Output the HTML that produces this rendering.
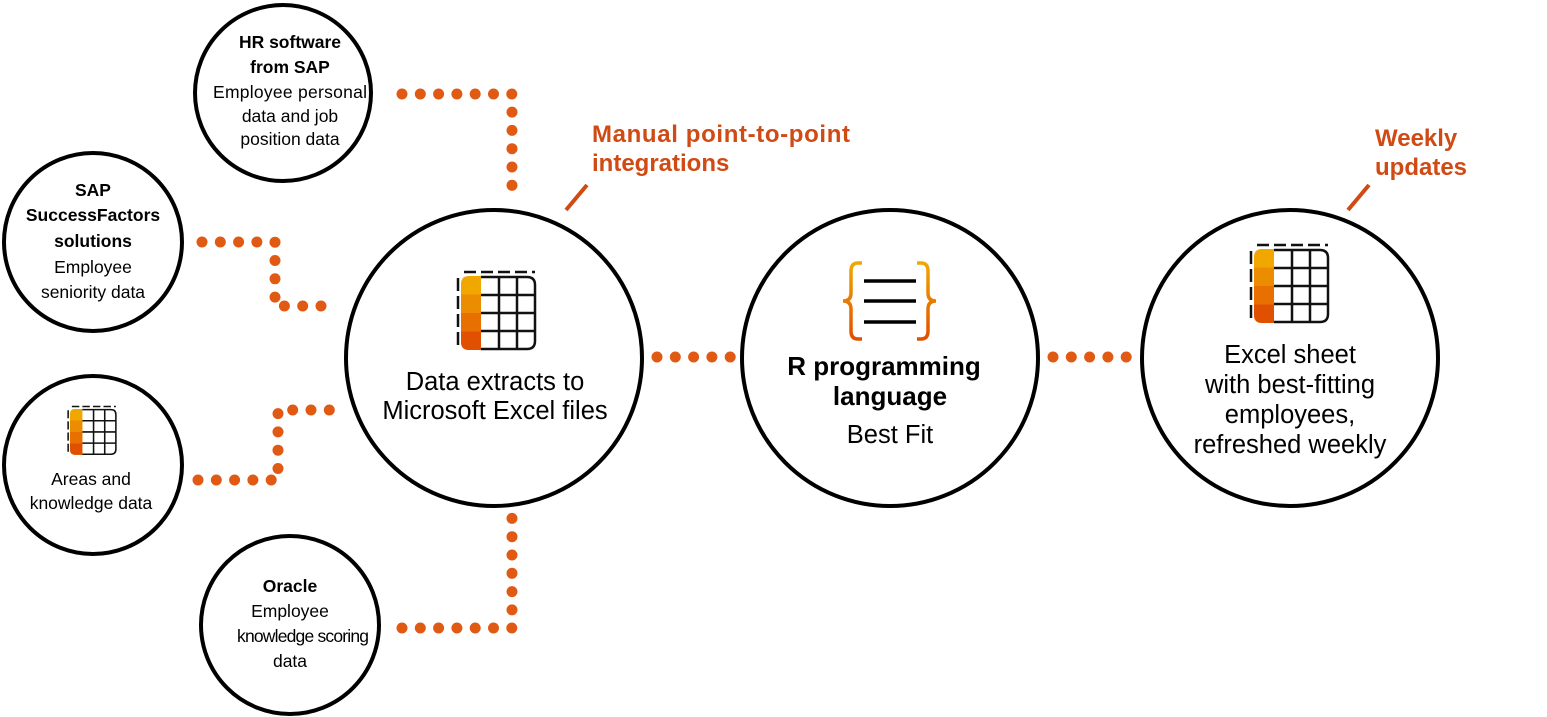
<!DOCTYPE html>
<html><head><meta charset="utf-8"><style>
html,body{margin:0;padding:0;background:#fff;}
svg{display:block;font-family:"Liberation Sans",sans-serif;}
</style></head><body>
<svg width="1547" height="717" viewBox="0 0 1547 717" xmlns="http://www.w3.org/2000/svg">
<defs>
<g id="grid">
 <line x1="3" y1="-4" x2="74" y2="-4" stroke="#111" stroke-width="2.5" stroke-dasharray="12,5"/>
 <line x1="-3" y1="2" x2="-3" y2="72" stroke="#111" stroke-width="2.5" stroke-dasharray="13,5"/>
 <path d="M8,0 H20 V74 H8 Q0,74 0,66 V8 Q0,0 8,0Z" fill="#f0a800"/>
 <rect x="0" y="18.5" width="20" height="18.5" fill="#ec8c00"/>
 <rect x="0" y="37" width="20" height="18.5" fill="#e87000"/>
 <path d="M0,55.5 H20 V74 H8 Q0,74 0,66Z" fill="#e05000"/>
 <path d="M20,1 H66 Q74,1 74,9 V65 Q74,73 66,73 H20 M38,1 V73 M56,1 V73 M20,19 H74 M20,37 H74 M20,55 H74" fill="none" stroke="#111" stroke-width="2.5"/>
</g>
<linearGradient id="bg" x1="0" y1="0" x2="0" y2="1"><stop offset="0" stop-color="#f0a800"/><stop offset="1" stop-color="#e05000"/></linearGradient>
</defs>
<g fill="none" stroke="#000" stroke-width="4">
 <circle cx="283" cy="93" r="88"/>
 <circle cx="93" cy="242" r="89"/>
 <circle cx="93" cy="465" r="89"/>
 <circle cx="290" cy="625" r="89"/>
 <circle cx="494" cy="358" r="148"/>
 <circle cx="890" cy="358" r="148"/>
 <circle cx="1290" cy="358" r="148"/>
</g>
<g stroke="#e05a14" stroke-width="11" stroke-linecap="round" stroke-dasharray="0,18.3" fill="none">
 <path d="M402,94 H512 V192"/>
 <path d="M202,242 H275 V306 H332"/>
 <path d="M198,480 H278 V410 H334"/>
 <path d="M402,628 H512 V518"/>
 <path d="M657,357 H735"/>
 <path d="M1053,357 H1131"/>
</g>
<g stroke="#d04a14" stroke-width="4">
 <line x1="566" y1="210" x2="587" y2="185"/>
 <line x1="1348" y1="210" x2="1369" y2="185"/>
</g>
<g fill="#d04a14" font-weight="bold" font-size="24">
 <text x="592" y="142" textLength="258">Manual point-to-point</text>
 <text x="592" y="171">integrations</text>
 <text x="1375" y="146">Weekly</text>
 <text x="1375" y="175">updates</text>
</g>
<use href="#grid" transform="translate(461,276)"/>
<use href="#grid" transform="translate(1254,249)"/>
<use href="#grid" transform="translate(70,409) scale(0.62)"/>
<g fill="none" stroke="url(#bg)" stroke-width="3.5">
 <path d="M862,263 H858 Q851,263 851,271 V293 Q851,301 843,301 Q851,301 851,309 V331 Q851,339 858,339 H862"/>
 <path d="M917,263 H921 Q928,263 928,271 V293 Q928,301 936,301 Q928,301 928,309 V331 Q928,339 921,339 H917"/>
</g>
<g stroke="#000" stroke-width="3.5"><line x1="864" y1="281" x2="916" y2="281"/><line x1="864" y1="301" x2="916" y2="301"/><line x1="864" y1="322" x2="916" y2="322"/></g>
<g text-anchor="middle" font-size="17.5" fill="#000">
 <text x="290" y="48" font-weight="bold">HR software</text>
 <text x="290" y="73" font-weight="bold">from SAP</text>
 <text x="290" y="98" textLength="154">Employee personal</text>
 <text x="290" y="122">data and job</text>
 <text x="290" y="145">position data</text>
 <text x="93" y="196" font-weight="bold">SAP</text>
 <text x="93" y="221" font-weight="bold">SuccessFactors</text>
 <text x="93" y="247" font-weight="bold">solutions</text>
 <text x="93" y="273">Employee</text>
 <text x="93" y="298">seniority data</text>
 <text x="91" y="485">Areas and</text>
 <text x="91" y="509">knowledge data</text>
 <text x="290" y="592" font-weight="bold">Oracle</text>
 <text x="290" y="617">Employee</text>
 <text x="303" y="642" textLength="132">knowledge scoring</text>
 <text x="290" y="667">data</text>
</g>
<g text-anchor="middle" font-size="25.5" fill="#000">
 <text x="495" y="390">Data extracts to</text>
 <text x="495" y="419">Microsoft Excel files</text>
 <text x="884" y="375" font-weight="bold" font-size="26">R programming</text>
 <text x="890" y="405" font-weight="bold" font-size="26">language</text>
 <text x="890" y="443">Best Fit</text>
 <text x="1290" y="363">Excel sheet</text>
 <text x="1290" y="393">with best-fitting</text>
 <text x="1290" y="423">employees,</text>
 <text x="1290" y="453">refreshed weekly</text>
</g>
</svg>
</body></html>
